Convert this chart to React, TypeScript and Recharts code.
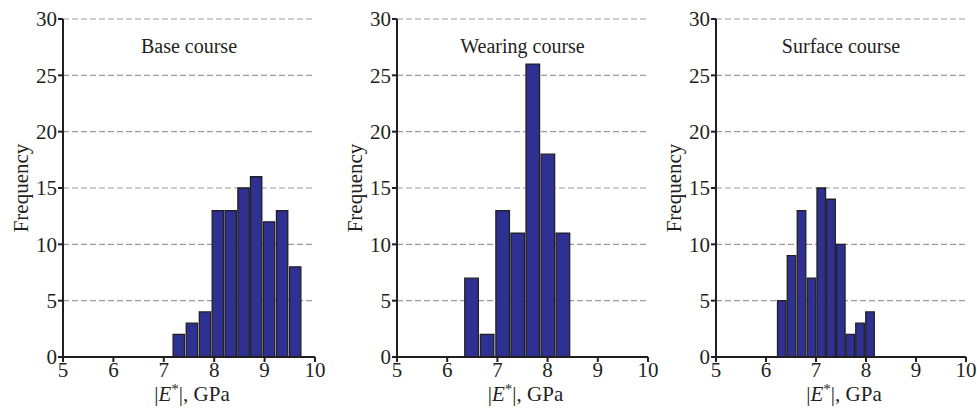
import React from 'react';
import { BarChart, Bar, XAxis, YAxis, CartesianGrid, Label } from 'recharts';

// bin edges (GPa) and counts
const baseEdges = [7.16, 7.42, 7.68, 7.94, 8.19, 8.45, 8.7, 8.95, 9.21, 9.47, 9.73];
const baseCounts = [2, 3, 4, 13, 13, 15, 16, 12, 13, 8];

const wearingEdges = [6.33, 6.63, 6.95, 7.25, 7.55, 7.85, 8.15, 8.45];
const wearingCounts = [7, 2, 13, 11, 26, 18, 11];

const surfaceEdges = [6.23, 6.42, 6.62, 6.82, 7.02, 7.21, 7.41, 7.6, 7.79, 7.99, 8.19];
const surfaceCounts = [5, 9, 13, 7, 15, 14, 10, 2, 3, 4];

const xTicks = [5, 6, 7, 8, 9, 10];
const yTicks = [0, 5, 10, 15, 20, 25, 30];

const INK = '#231f20';
const BAR = '#2e3192';
const FONT = 'Liberation Serif';
const H = 408;
const Y_AXIS_W = 50;
const TOP = 19;
const PLOT_BOTTOM = 357;
const X_AXIS_H = 46;

interface PanelProps {
    left: number;
    width: number;
    plotLeft: number;
    plotRight: number;
    title: string;
    edges: number[];
    counts: number[];
}

function Panel({ left, width, plotLeft, plotRight, title, edges, counts }: PanelProps) {
    const data = counts.map((c, i) => ({ mid: (edges[i] + edges[i + 1]) / 2, count: c }));
    const plotW = plotRight - plotLeft;
    const binW = (edges[edges.length - 1] - edges[0]) / counts.length;
    const barSize = (binW * plotW) / (xTicks[xTicks.length - 1] - xTicks[0]);
    const margin = {
        top: TOP,
        right: width - plotRight,
        left: plotLeft - Y_AXIS_W,
        bottom: H - PLOT_BOTTOM - X_AXIS_H,
    };
    const tick = { fontSize: 21, fill: INK, style: { fontFamily: FONT } };

    return (
        <div style={{ position: 'absolute', left, top: 0, width, height: H, fontFamily: FONT }}>
            <BarChart width={width} height={H} data={data} margin={margin} barCategoryGap={0} barGap={0} style={{ fontFamily: FONT }}>
                <CartesianGrid vertical={false} stroke="#9a9a9a" strokeDasharray="6 3" strokeWidth={1.2} />
                <XAxis
                    type="number"
                    dataKey="mid"
                    domain={[5, 10]}
                    ticks={xTicks}
                    allowDataOverflow
                    height={X_AXIS_H}
                    tick={tick}
                    tickSize={5}
                    tickMargin={0}
                    stroke={INK}
                    strokeWidth={2}
                >
                    <Label
                        content={({ viewBox }: any) => (
                            <text
                                x={viewBox.x + viewBox.width / 2 + 3}
                                y={viewBox.y + 44}
                                textAnchor="middle"
                                fontSize={21}
                                fill={INK}
                                style={{ fontFamily: FONT }}
                            >
                                <tspan>|</tspan>
                                <tspan fontStyle="italic">E</tspan>
                                <tspan dy={-7} fontSize={15}>*</tspan>
                                <tspan dy={7}>|, GPa</tspan>
                            </text>
                        )}
                    />
                </XAxis>
                <YAxis
                    domain={[0, 30]}
                    ticks={yTicks}
                    width={Y_AXIS_W}
                    tick={tick}
                    tickSize={5}
                    tickMargin={1}
                    stroke={INK}
                    strokeWidth={2}
                >
                    <Label
                        content={({ viewBox }: any) => {
                            const cx = viewBox.x + viewBox.width - 42;
                            const cy = viewBox.y + viewBox.height / 2;
                            return (
                                <text
                                    x={cx}
                                    y={cy}
                                    transform={`rotate(-90 ${cx} ${cy})`}
                                    textAnchor="middle"
                                    dominantBaseline="central"
                                    fontSize={21}
                                    fill={INK}
                                    style={{ fontFamily: FONT }}
                                >
                                    Frequency
                                </text>
                            );
                        }}
                    />
                </YAxis>
                <Bar
                    dataKey="count"
                    fill={BAR}
                    stroke={INK}
                    strokeWidth={1.3}
                    barSize={barSize}
                    isAnimationActive={false}
                />
            </BarChart>
            <div
                style={{
                    position: 'absolute',
                    left: plotLeft,
                    width: plotW,
                    top: 34,
                    textAlign: 'center',
                    fontFamily: FONT,
                    fontSize: 20,
                    lineHeight: '24px',
                    color: INK,
                }}
            >
                {title}
            </div>
        </div>
    );
}

export default function App() {
    return (
        <div style={{ position: 'absolute', left: 0, top: 0, width: 977, height: H, background: '#fff' }}>
            <Panel left={0} width={330} plotLeft={63} plotRight={315} title="Base course" edges={baseEdges} counts={baseCounts} />
            <Panel left={330} width={330} plotLeft={67} plotRight={318} title="Wearing course" edges={wearingEdges} counts={wearingCounts} />
            <Panel left={650} width={327} plotLeft={66} plotRight={316} title="Surface course" edges={surfaceEdges} counts={surfaceCounts} />
        </div>
    );
}
